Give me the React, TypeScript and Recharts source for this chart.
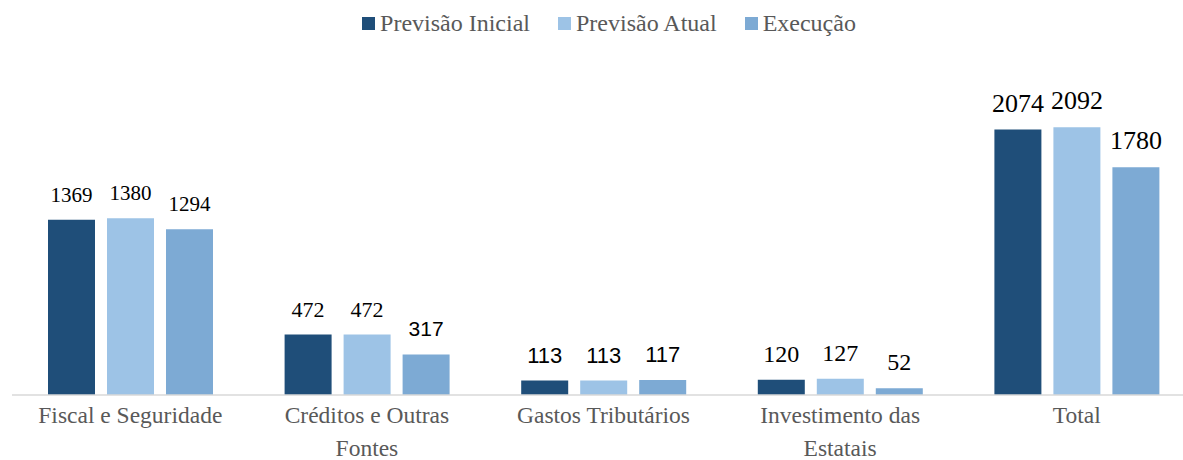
import React from "react";
import { BarChart, Bar, XAxis, YAxis, Legend, LabelList } from "recharts";

const categories = [
  "Fiscal e Seguridade",
  "Créditos e Outras\nFontes",
  "Gastos Tributários",
  "Investimento das\nEstatais",
  "Total",
];
const previsaoInicial = [1369, 472, 113, 120, 2074];
const previsaoAtual = [1380, 472, 113, 127, 2092];
const execucao = [1294, 317, 117, 52, 1780];

const series = [
  { key: "inicial", name: "Previsão Inicial", values: previsaoInicial, color: "#1F4E79" },
  { key: "atual", name: "Previsão Atual", values: previsaoAtual, color: "#9DC3E6" },
  { key: "execucao", name: "Execução", values: execucao, color: "#7DAAD4" },
];

// label styling copied from the original: it mixes faces and sizes
const sansLabels = new Set(["execucao-1", "inicial-2", "atual-2", "execucao-2"]);
const labelSizeByCategory = [21, 22, 23, 24, 26];

const chartData = categories.map((name, i) => ({
  name,
  inicial: previsaoInicial[i],
  atual: previsaoAtual[i],
  execucao: execucao[i],
}));

const serif = "'Liberation Serif', 'Times New Roman', serif";
const sans = "'Liberation Sans', Arial, sans-serif";

const CategoryTick = (props: any) => {
  const { x, y, payload } = props;
  const lines = String(payload.value).split("\n");
  return (
    <g transform={`translate(${x},${y})`}>
      {lines.map((line, i) => (
        <text
          key={i}
          x={0}
          y={20 + i * 33}
          textAnchor="middle"
          fill="#595959"
          fontFamily={serif}
          fontSize={23.5}
        >
          {line}
        </text>
      ))}
    </g>
  );
};

const makeLabel = (seriesKey: string) => (props: any) => {
  const { x, y, width, value, index } = props;
  const isSans = sansLabels.has(`${seriesKey}-${index}`);
  const size = labelSizeByCategory[index] ?? 22;
  return (
    <text
      x={x + width / 2}
      y={y - 18}
      textAnchor="middle"
      fill="#000"
      fontFamily={isSans ? sans : serif}
      fontSize={isSans ? size - 1 : size}
    >
      {value}
    </text>
  );
};

const LegendContent = () => (
  <div
    style={{
      display: "flex",
      justifyContent: "center",
      alignItems: "center",
      gap: 28,
      fontFamily: serif,
      fontSize: 24,
      lineHeight: "26px",
      color: "#595959",
      paddingLeft: 18,
    }}
  >
    {series.map((s) => (
      <div key={s.key} style={{ display: "flex", alignItems: "center" }}>
        <span
          style={{ width: 13, height: 13, background: s.color, display: "inline-block", marginRight: 5 }}
        />
        <span>{s.name}</span>
      </div>
    ))}
  </div>
);

export default function App() {
  return (
    <div
      style={{
        position: "absolute",
        left: 0,
        top: 0,
        width: 1183,
        height: 460,
        overflow: "hidden",
        background: "#fff",
      }}
    >
      <BarChart
        width={1200}
        height={460}
        data={chartData}
        margin={{ top: 49, right: 5, bottom: 0, left: 12 }}
        barGap={12}
        barSize={47}
      >
        <XAxis
          dataKey="name"
          tick={<CategoryTick />}
          tickLine={false}
          axisLine={{ stroke: "#d9d9d9", strokeWidth: 1.5 }}
          height={65}
          interval={0}
        />
        <YAxis hide domain={[0, 2500]} />
        <Legend
          verticalAlign="top"
          content={<LegendContent />}
          wrapperStyle={{ top: 10, left: 0, width: 1200 }}
        />
        {series.map((s) => (
          <Bar key={s.key} dataKey={s.key} name={s.name} fill={s.color} isAnimationActive={false}>
            <LabelList dataKey={s.key} content={makeLabel(s.key)} />
          </Bar>
        ))}
      </BarChart>
    </div>
  );
}
